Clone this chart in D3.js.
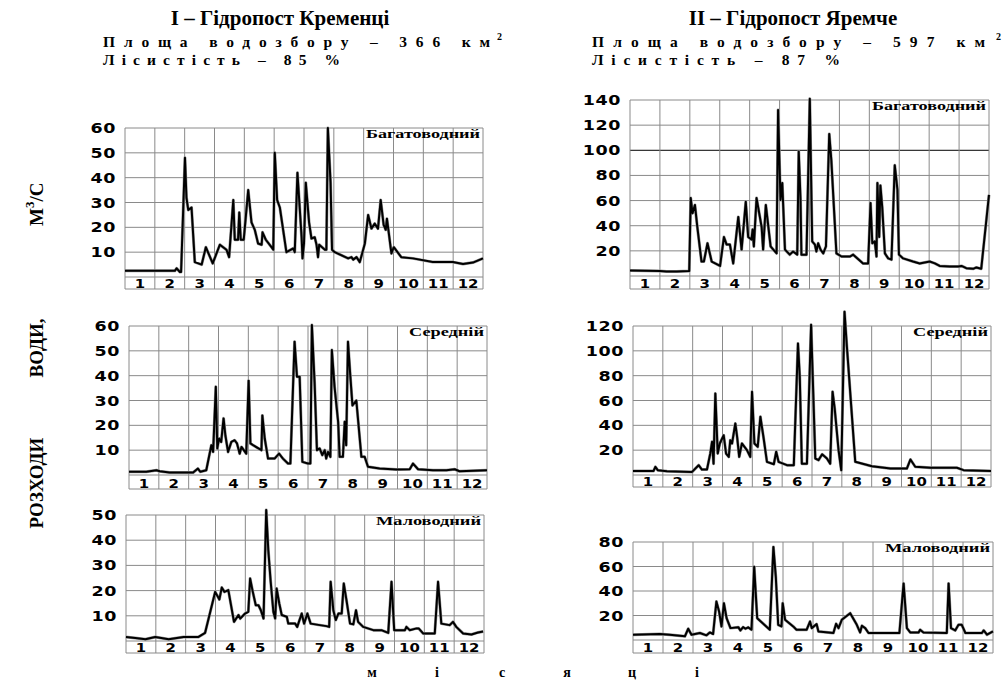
<!DOCTYPE html>
<html>
<head>
<meta charset="utf-8">
<script src="https://cdnjs.cloudflare.com/ajax/libs/d3/7.8.5/d3.min.js"></script>
<style>
  body { margin: 0; background: #fff; }
  svg { display: block; }
</style>
</head>
<body>
<svg id="chart" width="1004" height="681"></svg>
<script>
// ---------------- data: [month position (0..12), discharge m3/s] ----------------
var months = ["1","2","3","4","5","6","7","8","9","10","11","12"];

var kremenetsHigh = [[0,2.5],[1.67,2.5],[1.73,3.5],[1.84,2],[1.88,2],[2.01,48],[2.06,32],[2.12,27],[2.23,28],[2.34,6],[2.57,5],[2.71,12],[2.94,5.5],[3.18,13],[3.40,11],[3.49,8],[3.63,31],[3.68,15],[3.79,15],[3.83,26],[3.88,15],[3.98,15],[4.13,35],[4.24,22],[4.35,19],[4.46,13.5],[4.58,13],[4.61,18],[4.72,15],[4.91,12],[4.97,11],[5.02,50],[5.10,31],[5.19,28],[5.41,10],[5.64,11.5],[5.69,10],[5.78,42],[5.92,16],[5.95,7.5],[6.00,13.5],[6.06,38],[6.17,22],[6.25,15.5],[6.36,16],[6.42,13],[6.47,8],[6.51,13],[6.70,11],[6.75,11],[6.80,60],[6.89,38],[6.94,11],[7.03,10],[7.48,7.5],[7.59,8],[7.65,7],[7.76,8],[7.87,6],[8.04,13.5],[8.15,25],[8.26,19.5],[8.37,21.5],[8.48,19.5],[8.57,31],[8.67,21],[8.74,19],[8.78,23.5],[8.93,9.5],[9.01,12],[9.26,8],[9.65,7.5],[10.32,6],[10.99,6],[11.33,5.2],[11.66,5.8],[12,7.5]];

var yaremcheHigh = [[0,4.4],[1.00,4],[1.22,3.6],[1.56,3.6],[1.98,4],[2.03,62],[2.09,50],[2.17,56.5],[2.25,39],[2.39,11.5],[2.47,11.5],[2.59,26],[2.73,11.5],[3.01,8],[3.14,31],[3.23,25],[3.34,25],[3.45,10],[3.62,47],[3.73,21],[3.87,59],[3.95,31],[4.06,29],[4.10,37],[4.14,23.5],[4.23,62],[4.40,39],[4.45,21],[4.54,56.5],[4.70,23.5],[4.79,21],[4.90,18],[4.95,132],[5.03,60.5],[5.09,74],[5.18,21],[5.34,17],[5.45,19.5],[5.59,17],[5.64,99],[5.70,60.5],[5.73,17],[5.90,17],[6.01,141],[6.09,27.5],[6.18,25],[6.23,19.5],[6.29,26],[6.37,21],[6.46,18],[6.55,23.5],[6.66,113],[6.73,92],[6.90,18],[7.07,15.5],[7.35,15.5],[7.46,17],[7.79,10],[7.96,10],[8.04,58],[8.10,26],[8.18,27.5],[8.24,15.5],[8.27,74],[8.33,31],[8.37,72],[8.43,55],[8.52,18],[8.63,14],[8.74,13],[8.85,88],[8.94,68.5],[8.99,17],[9.13,14],[9.46,11.5],[9.68,10],[10.02,11.5],[10.19,10],[10.35,8],[10.69,7.5],[10.97,7.5],[11.08,8],[11.24,6.2],[11.47,5.7],[11.58,6.8],[11.74,5.7],[12,64.5]];

var kremenetsMid = [[0,1.3],[0.58,1.3],[0.92,1.9],[1.03,1.5],[1.36,1],[2.03,1],[2.15,1],[2.31,2.6],[2.39,1.3],[2.59,1.9],[2.76,12],[2.82,9.3],[2.91,35.5],[2.96,10.7],[3.02,14.7],[3.09,13.3],[3.17,22.8],[3.23,16],[3.32,9.3],[3.43,13.3],[3.54,14],[3.62,12.7],[3.71,8.6],[3.77,11.3],[3.93,8.6],[4.01,38],[4.07,12.7],[4.16,12],[4.44,10],[4.47,24],[4.55,14.7],[4.66,6.6],[4.88,6.6],[5.03,8.6],[5.16,6.6],[5.33,4.6],[5.41,4.6],[5.55,53.7],[5.63,39.6],[5.72,39.6],[5.81,5.3],[6.00,4.6],[6.08,4.6],[6.13,60.4],[6.22,37.5],[6.30,10],[6.39,10.7],[6.48,8],[6.56,10],[6.61,6.6],[6.67,9.3],[6.75,7.3],[6.80,50.3],[6.89,35.5],[7.01,21.4],[7.06,7.3],[7.17,7.3],[7.23,21.4],[7.28,12],[7.34,53.7],[7.42,39.6],[7.49,28],[7.62,30],[7.79,7.3],[7.90,7.3],[8.01,3.3],[8.40,2.6],[8.96,2.2],[9.41,2.3],[9.52,4.6],[9.69,2.3],[10.19,1.9],[10.64,1.9],[10.92,2.3],[11.08,1.5],[12,1.9]];

var yaremcheMid = [[0,3.3],[0.69,3.3],[0.75,6.6],[0.83,3.9],[1.14,3.1],[1.98,2.5],[2.20,7.9],[2.31,4.4],[2.48,4.4],[2.59,17.3],[2.65,26.7],[2.70,9.1],[2.76,65.7],[2.84,17.3],[2.91,25.4],[3.04,32],[3.12,17.3],[3.21,14.6],[3.26,28],[3.32,25.4],[3.43,41.5],[3.49,30.7],[3.56,14.6],[3.65,25.4],[3.82,20],[3.93,14.6],[3.99,67],[4.07,25.4],[4.18,22.7],[4.27,46.9],[4.38,29.4],[4.49,10.6],[4.72,8.7],[4.80,18.7],[4.88,10.6],[5.16,7.9],[5.39,7.9],[5.53,106],[5.59,79],[5.66,9.1],[5.83,9.1],[5.97,121],[6.06,52],[6.11,13.3],[6.22,12],[6.34,16.7],[6.50,13.3],[6.61,9.1],[6.69,67],[6.76,53.6],[6.89,20],[6.98,3.9],[7.09,131.5],[7.17,103.3],[7.45,10.6],[8.01,7.1],[8.63,5.2],[9.18,5.2],[9.30,12.5],[9.46,6.6],[9.97,5.8],[10.86,5.8],[11.08,3.9],[12,3.3]];

var kremenetsLow = [[0,1.6],[0.31,1.2],[0.65,0.7],[0.98,1.6],[1.43,0.7],[1.93,1.6],[2.43,1.6],[2.65,3.2],[2.99,19.5],[3.13,16.5],[3.21,21.2],[3.30,19.5],[3.43,20.2],[3.62,7.6],[3.77,10.3],[3.83,8.9],[3.99,10.9],[4.10,11.6],[4.16,24.8],[4.25,19.5],[4.35,14.2],[4.44,14.2],[4.52,12.2],[4.61,8.9],[4.70,52],[4.77,36],[4.85,23.5],[4.94,11.6],[5.00,8.9],[5.05,20.8],[5.14,14.8],[5.22,10.3],[5.39,9.6],[5.44,6.9],[5.67,6.9],[5.74,5.6],[5.89,10.9],[5.97,6.9],[6.08,10.9],[6.19,6.9],[6.50,6.3],[6.72,5.9],[6.81,5.6],[6.86,23.5],[6.95,12.2],[7.03,8.3],[7.12,10.9],[7.23,10.9],[7.30,22.8],[7.39,16.2],[7.51,6.9],[7.62,6.6],[7.71,12.2],[7.78,7.6],[7.95,5.6],[8.29,4.3],[8.56,4.3],[8.79,3.2],[8.90,23.5],[8.99,4.3],[9.35,4.3],[9.40,5.6],[9.51,4.3],[9.74,5],[9.81,5],[9.96,3],[10.35,3],[10.46,23.5],[10.57,6.9],[10.85,6.3],[10.96,7.6],[11.07,5.6],[11.30,3],[11.58,2.6],[11.80,3.4],[11.97,3.8]];

var yaremcheLow = [[0,4.3],[0.89,4.9],[1.22,4.3],[1.73,3],[1.84,9.2],[1.95,4.3],[2.23,5.7],[2.45,3.8],[2.56,6.2],[2.67,4.9],[2.78,31.4],[2.87,23.2],[2.95,11.1],[3.03,30],[3.12,17.8],[3.25,9.7],[3.51,10.5],[3.58,7.8],[3.67,10.5],[3.75,9.2],[3.84,10.3],[3.95,8.4],[4.04,59.7],[4.14,17.8],[4.56,8.4],[4.68,76],[4.76,51.6],[4.84,12.4],[4.95,11.1],[4.99,30],[5.07,16.5],[5.34,11.1],[5.45,8.4],[5.79,8.4],[5.90,15.1],[5.96,9.7],[6.12,13],[6.18,7],[6.35,6.5],[6.68,5.7],[6.77,13.2],[6.85,9.7],[6.96,16.5],[7.24,21.9],[7.46,12.4],[7.57,6.2],[7.63,11.6],[7.74,9.7],[7.85,5.7],[8.88,5.7],[9.02,46.2],[9.13,9.7],[9.24,6.2],[9.52,6.2],[9.57,8.4],[9.68,6.2],[10.46,5.7],[10.52,46.2],[10.60,9.7],[10.74,7.8],[10.85,12.4],[10.96,12.4],[11.08,5.7],[11.63,5.7],[11.69,7.8],[11.80,4.3],[12,7]];

var ticksKremHigh = [10,20,30,40,50,60];
var ticksYarHigh  = [20,40,60,80,100,120,140];
var ticksKremMid  = [10,20,30,40,50,60];
var ticksYarMid   = [20,40,60,80,100,120];
var ticksKremLow  = [10,20,30,40,50];
var ticksYarLow   = [20,40,60,80];

var titles = [
  {head: "І – Гідропост Кременці", area: "Площа водозбору – 366 км", forest: "Лісистість – 85 %"},
  {head: "ІІ – Гідропост Яремче",  area: "Площа водозбору – 597 км", forest: "Лісистість – 87 %"}
];
var regimeLabels = ["Багатоводний", "Середній", "Маловодний"];
var axisTitleParts = ["РОЗХОДИ", "ВОДИ,", "М", "3", "/С"];
var xTitleLetters = ["м","і","с","я","ц","і"];

// ---------------- layout ----------------
var panels = [
  {data: kremenetsHigh, ticks: ticksKremHigh, label: regimeLabels[0], x0: 125, x1: 483, top: 128, zero: 277, strip: 289, dark: null},
  {data: yaremcheHigh,  ticks: ticksYarHigh,  label: regimeLabels[0], x0: 630, x1: 989, top: 100, zero: 276, strip: 289, dark: 100},
  {data: kremenetsMid,  ticks: ticksKremMid,  label: regimeLabels[1], x0: 129, x1: 487, top: 326, zero: 475, strip: 489, dark: null},
  {data: yaremcheMid,   ticks: ticksYarMid,   label: regimeLabels[1], x0: 633, x1: 991, top: 326, zero: 475, strip: 487, dark: null},
  {data: kremenetsLow,  ticks: ticksKremLow,  label: regimeLabels[2], x0: 126, x1: 484, top: 515, zero: 641, strip: 653, dark: null},
  {data: yaremcheLow,   ticks: ticksYarLow,   label: regimeLabels[2], x0: 633, x1: 993, top: 542, zero: 640, strip: 653, dark: null}
];

var svg = d3.select("#chart");
var gridColor = "#8a8a8a";
var serif = "'Liberation Serif', 'Times New Roman', serif";
var sans = "'DejaVu Sans', Verdana, sans-serif";

panels.forEach(function(p) {
  var yMax = d3.max(p.ticks);
  var x = d3.scaleLinear().domain([0, 12]).range([p.x0, p.x1]);
  var y = d3.scaleLinear().domain([0, yMax]).range([p.zero, p.top]);
  var g = svg.append("g");

  // horizontal grid
  g.selectAll(".hg").data([0].concat(p.ticks)).enter().append("line")
    .attr("x1", p.x0).attr("x2", p.x1)
    .attr("y1", function(d){ return y(d); }).attr("y2", function(d){ return y(d); })
    .attr("stroke", function(d){ return d === p.dark ? "#000" : gridColor; })
    .attr("stroke-width", 1);
  g.append("line").attr("x1", p.x0).attr("x2", p.x1).attr("y1", p.strip).attr("y2", p.strip)
    .attr("stroke", gridColor);

  // vertical grid through month strip
  g.selectAll(".vg").data(d3.range(13)).enter().append("line")
    .attr("x1", function(d){ return x(d); }).attr("x2", function(d){ return x(d); })
    .attr("y1", p.top).attr("y2", p.strip)
    .attr("stroke", gridColor).attr("stroke-width", 1);

  // y tick labels (wide digits)
  g.selectAll(".yt").data(p.ticks).enter().append("text")
    .attr("transform", function(d){ return "translate(" + (p.x0 - 9) + "," + (y(d) + 5) + ") scale(1.25,1)"; })
    .attr("text-anchor", "end")
    .attr("font-family", sans).attr("font-size", 14).attr("font-weight", "bold")
    .attr("letter-spacing", 0.5)
    .text(function(d){ return d; });

  // month labels
  g.selectAll(".mt").data(months).enter().append("text")
    .attr("transform", function(d, i){ return "translate(" + x(i + 0.5) + "," + (p.strip - 1.5) + ") scale(1.3,1)"; })
    .attr("text-anchor", "middle")
    .attr("font-family", sans).attr("font-size", 11.5).attr("font-weight", "bold")
    .text(function(d){ return d; });

  // regime label
  g.append("text")
    .attr("x", p.x1 - 3).attr("y", p.top + 10)
    .attr("text-anchor", "end")
    .attr("font-family", serif).attr("font-size", 11.5).attr("font-weight", "bold")
    .attr("textLength", p.label === regimeLabels[1] ? 75 : (p.label === regimeLabels[0] ? 114 : 105))
    .attr("lengthAdjust", "spacingAndGlyphs")
    .text(p.label);

  // discharge line
  var line = d3.line().x(function(d){ return x(d[0]); }).y(function(d){ return y(d[1]); });
  g.append("path").datum(p.data)
    .attr("d", line)
    .attr("fill", "none").attr("stroke", "#999").attr("stroke-width", 3)
    .attr("stroke-linejoin", "round");
  g.append("path").datum(p.data)
    .attr("d", line)
    .attr("fill", "none").attr("stroke", "#000").attr("stroke-width", 2)
    .attr("stroke-linejoin", "round");
});

// ---------------- titles ----------------
var titleLayout = [
  {cx: 280, left: 103, areaW: 387, forestW: 237, sup: 497},
  {cx: 793, left: 592, areaW: 393, forestW: 248, sup: 996}
];
titles.forEach(function(t, i) {
  var L = titleLayout[i];
  svg.append("text").attr("x", L.cx).attr("y", 25).attr("text-anchor", "middle")
    .attr("font-family", serif).attr("font-size", 21).attr("font-weight", "bold")
    .text(t.head);
  svg.append("text").attr("x", L.left).attr("y", 47)
    .attr("font-family", serif).attr("font-size", 15.5).attr("font-weight", "bold")
    .attr("textLength", L.areaW).attr("lengthAdjust", "spacing")
    .text(t.area);
  svg.append("text").attr("x", L.sup).attr("y", 40)
    .attr("font-family", serif).attr("font-size", 10).attr("font-weight", "bold")
    .text("2");
  svg.append("text").attr("x", L.left).attr("y", 65)
    .attr("font-family", serif).attr("font-size", 15.5).attr("font-weight", "bold")
    .attr("textLength", L.forestW).attr("lengthAdjust", "spacing")
    .text(t.forest);
});

// y axis title (rotated)
var yTitle = svg.append("g").attr("font-family", serif).attr("font-weight", "bold").attr("font-size", 19);
yTitle.append("text").attr("transform", "translate(43,483) rotate(-90)").attr("text-anchor", "middle").text(axisTitleParts[0]);
yTitle.append("text").attr("transform", "translate(43,348) rotate(-90)").attr("text-anchor", "middle").text(axisTitleParts[1]);
var unit = yTitle.append("text").attr("transform", "translate(43,226) rotate(-90)");
unit.append("tspan").text(axisTitleParts[2]);
unit.append("tspan").attr("dy", -9).attr("font-size", 13).text(axisTitleParts[3]);
unit.append("tspan").attr("dy", 9).text(axisTitleParts[4]);

// x axis title (spaced letters)
svg.selectAll(".xl").data(xTitleLetters).enter().append("text")
  .attr("x", function(d, i){ return 372 + i * 65; }).attr("y", 677)
  .attr("text-anchor", "middle")
  .attr("font-family", serif).attr("font-size", 14).attr("font-weight", "bold")
  .text(function(d){ return d; });
</script>
</body>
</html>
